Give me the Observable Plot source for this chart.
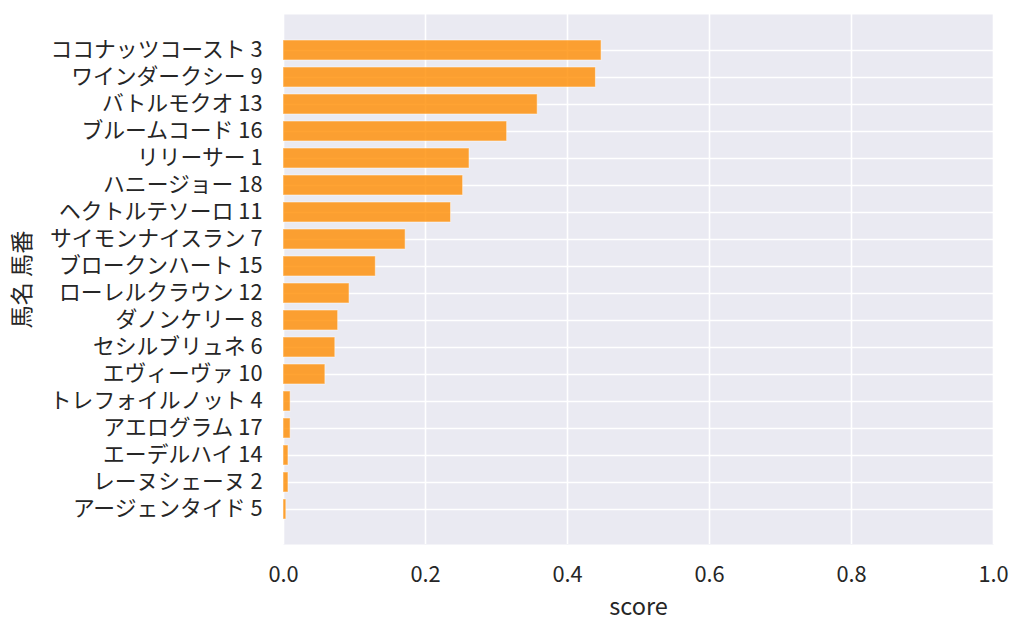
<!DOCTYPE html>
<html><head><meta charset="utf-8">
<script src="https://cdn.jsdelivr.net/npm/d3@7"></script>
<script src="https://cdn.jsdelivr.net/npm/@observablehq/plot@0.6"></script>
<style>
body{margin:0;background:#fff;}
svg{font-family:"Noto Sans CJK JP","Noto Sans",sans-serif;}
</style></head>
<body><div id="chart"></div>
<script>
const horses = ["ココナッツコースト 3","ワインダークシー 9","バトルモクオ 13","ブルームコード 16","リリーサー 1","ハニージョー 18","ヘクトルテソーロ 11","サイモンナイスラン 7","ブロークンハート 15","ローレルクラウン 12","ダノンケリー 8","セシルブリュネ 6","エヴィーヴァ 10","トレフォイルノット 4","アエログラム 17","エーデルハイ 14","レーヌシェーヌ 2","アージェンタイド 5"];
const scores = [0.448,0.440,0.358,0.315,0.262,0.253,0.236,0.172,0.130,0.093,0.077,0.073,0.059,0.010,0.010,0.007,0.007,0.004];
const xTicks = [0,0.2,0.4,0.6,0.8,1.0];
const data = horses.map((h,i)=>({name:h, score:scores[i]}));

const chart = Plot.plot({
  width:1024, height:634,
  marginLeft:283, marginRight:31, marginTop:14, marginBottom:90,
  style:{background:"#fff", fontSize:"21.8px", color:"#262626"},
  x:{domain:[0,1]},
  y:{domain:horses, paddingInner:0.27, paddingOuter:0.878},
  marks:[
    Plot.frame({fill:"#EAEAF2", stroke:null}),
    Plot.gridX(xTicks,{stroke:"#fff", strokeOpacity:1, strokeWidth:1.6}),
    Plot.gridY({stroke:"#fff", strokeOpacity:1, strokeWidth:1.6}),
    Plot.barX(data,{x:"score", y:"name", fill:"#FF8C00", fillOpacity:0.8, stroke:"#fff", strokeOpacity:0.5, strokeWidth:1}),
    Plot.axisX({ticks:xTicks, tickFormat:d3.format(".1f"), tickSize:0, tickPadding:22, label:null}),
    Plot.axisX({ticks:[], label:"score", labelAnchor:"center", labelOffset:70, labelArrow:"none", fontSize:"23.5px"}),
    Plot.axisY({tickSize:0, tickPadding:21, label:null}),
    Plot.axisY({ticks:[], label:"馬名 馬番", labelAnchor:"center", labelOffset:270, labelArrow:"none", fontSize:"23.2px"})
  ]
});
document.getElementById("chart").appendChild(chart);
</script></body></html>
